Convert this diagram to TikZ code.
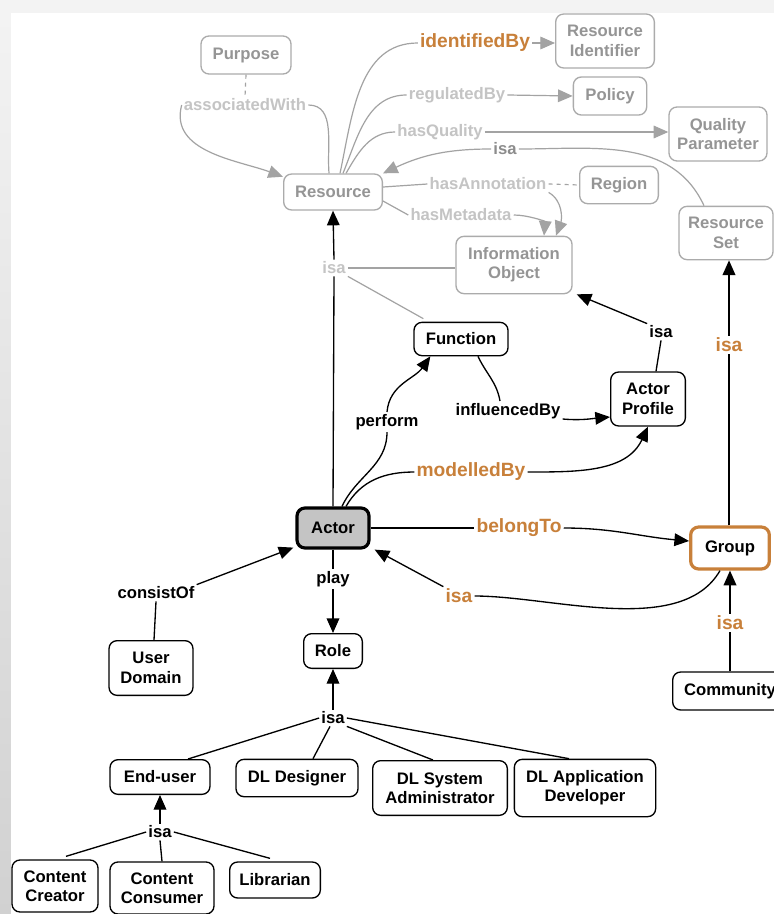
\documentclass[tikz,border=0pt]{standalone}
\usepackage{fontspec}
\setmainfont{Liberation Sans}
\usetikzlibrary{arrows.meta,calc}
\definecolor{orng}{HTML}{C8803A}
\definecolor{gbord}{HTML}{ABABAB}
\definecolor{gtext}{HTML}{959595}
\definecolor{glight}{HTML}{C4C4C4}
\definecolor{gisa}{HTML}{8C8C8C}
\definecolor{gline}{HTML}{A3A3A3}
\definecolor{actfill}{HTML}{C4C4C4}
\definecolor{bgg}{HTML}{F3F3F3}
\begin{document}
\begin{tikzpicture}[x=0.75pt,y=-0.75pt,
  every node/.style={font=\fontsize{12.5}{14.5}\selectfont\bfseries},
  box/.style={draw=black, line width=1pt, rounded corners=6pt, align=center, inner sep=1pt, fill=white},
  gbox/.style={box, draw=gbord, text=gtext},
  lbl/.style={fill=white, inner sep=1.5pt},
  olbl/.style={lbl, text=orng, font=\fontsize{14.4}{16}\selectfont\bfseries},
  glbl/.style={lbl, text=glight},
  bl/.style={line width=1pt, black},
  ba/.style={bl, -{Triangle[length=11pt,width=9.5pt]}},
  gl/.style={line width=0.9pt, gline},
  ga/.style={gl, -{Triangle[length=11pt,width=9.5pt]}},
]
\fill[bgg] (0,0) rectangle (774,914);
\shade[top color=bgg, bottom color=black!18] (0,13) rectangle (11,914);
\fill[white] (11,13) rectangle (774,914);
\useasboundingbox (0,0) rectangle (774,914);

% gray concept nodes
\node[gbox, minimum width=67.5pt, minimum height=28.5pt] (purpose) at (246,55) {Purpose};
\node[gbox, minimum width=74pt, minimum height=40.5pt] (resid) at (605,41) {Resource\\Identifier};
\node[gbox, minimum width=55pt, minimum height=28.5pt] (policy) at (610,96) {Policy};
\node[gbox, minimum width=73.5pt, minimum height=40.5pt] (qual) at (718,134) {Quality\\Parameter};
\node[gbox, minimum width=74pt, minimum height=27pt] (resource) at (333,192) {Resource};
\node[gbox, minimum width=59pt, minimum height=28pt] (region) at (619,185) {Region};
\node[gbox, minimum width=87pt, minimum height=43pt] (infoobj) at (514,265) {Information\\Object};
\node[gbox, minimum width=70.5pt, minimum height=40pt] (resset) at (726,233) {Resource\\Set};

% black concept nodes
\node[box, minimum width=70.5pt, minimum height=25pt] (function) at (461,339) {Function};
\node[box, minimum width=56pt, minimum height=40.5pt] (aprof) at (648,399) {Actor\\Profile};
\node[box, line width=2.4pt, fill=actfill, minimum width=54pt, minimum height=30pt] (actor) at (333,528) {Actor};
\node[box, draw=orng, line width=2.4pt, minimum width=59pt, minimum height=31.5pt] (group) at (730,548) {Group};
\node[box, minimum width=44pt, minimum height=26pt] (role) at (333,651) {Role};
\node[box, minimum width=63pt, minimum height=41pt] (udomain) at (151,668) {User\\Domain};
\node[box, minimum width=86pt, minimum height=28.5pt] (community) at (730,691) {Community};
\node[box, minimum width=75pt, minimum height=26pt] (enduser) at (160,777) {End-user};
\node[box, minimum width=91.5pt, minimum height=28pt] (dldes) at (297,778) {DL Designer};
\node[box, minimum width=101pt, minimum height=41pt] (dlsys) at (440,788) {DL System\\Administrator};
\node[box, minimum width=106pt, minimum height=43pt] (dlapp) at (585,788) {DL Application\\Developer};
\node[box, minimum width=64.5pt, minimum height=39pt] (ccreator) at (55,886) {Content\\Creator};
\node[box, minimum width=78pt, minimum height=39pt] (cconsumer) at (162,888) {Content\\Consumer};
\node[box, minimum width=68pt, minimum height=27pt] (librarian) at (275,880) {Librarian};

% link labels
\node[olbl] (idby) at (475,43) {identifiedBy};
\node[glbl] (assoc) at (245,105) {associatedWith};
\node[glbl] (regby) at (457,95) {regulatedBy};
\node[glbl] (hasq) at (440,132) {hasQuality};
\node[lbl, text=gisa] (isa1) at (505,149) {isa};
\node[glbl] (hasann) at (488,184) {hasAnnotation};
\node[glbl] (hasmeta) at (461,215) {hasMetadata};
\node[glbl] (isa2) at (334,268) {isa};
\node[lbl] (perform) at (387,422) {perform};
\node[lbl] (infl) at (508,411) {influencedBy};
\node[olbl] (modby) at (471,472) {modelledBy};
\node[olbl] (belong) at (519,528) {belongTo};
\node[olbl] (isa5) at (459,596) {isa};
\node[lbl] (play) at (333,579) {play};
\node[lbl] (consist) at (156,593) {consistOf};
\node[olbl] (isa4) at (729,345) {isa};
\node[lbl] (isa3) at (661,332) {isa};
\node[olbl] (isa6) at (730,623) {isa};
\node[lbl] (isa7) at (333,718) {isa};
\node[lbl] (isa8) at (160,832) {isa};

% gray connectors
\draw[gl, dashed] (purpose.south) -- (assoc.north);
\draw[ga] (assoc.west) to[out=-105,in=160] (resource.163);
\draw[gl] (assoc.east) to[out=0,in=95] ($(resource.north)+(-4,0)$);
\draw[gl] ($(resource.north)+(7,0)$) to[out=78,in=180] (idby.west);
\draw[ga] (idby.east) -- (resid.west |- idby.east);
\draw[gl] ($(resource.north)+(10,0)$) to[out=68,in=180] (regby.west);
\draw[ga] (regby.east) -- (policy.west);
\draw[gl] ($(resource.north)+(13,0)$) to[out=60,in=180] (hasq.west);
\draw[ga] (hasq.east) -- (qual.west |- hasq.east);
\draw[gl] ($(resset.north)+(-22,0)$) to[out=115,in=0] (isa1.east);
\draw[ga] (isa1.west) to[out=180,in=25] (resource.north east);
\draw[gl] ($(resource.east)+(0,-5)$) -- (hasann.west);
\draw[gl, dashed] (hasann.east) -- (region.west);
\draw[ga] (hasann.south east) to[out=-30,in=70] ($(infoobj.north)+(42,0)$);
\draw[gl] ($(resource.east)+(0,9)$) -- (hasmeta.west);
\draw[ga] (hasmeta.east) to[out=0,in=85] ($(infoobj.north)+(30,0)$);
\draw[gl] (isa2.east) -- (infoobj.west |- isa2.east);
\draw[gl] (isa2.south east) -- ($(function.north west)+(10,-3)$);

% black connectors
\draw[bl] (actor.north) -- (isa2.south);
\draw[ba] (isa2.north) -- (resource.south);
\draw[bl] ($(actor.north)+(9,0)$) to[out=65,in=-90] (perform.south);
\draw[ba] (perform.north) to[out=85,in=-125] ($(function.south west)+(17,0)$);
\draw[bl] ($(function.south)+(17,0)$) to[out=-65,in=100] ($(infl.north)+(-8,0)$);
\draw[ba] ($(infl.east)+(0,8)$) to[out=-5,in=185] ($(aprof.west)+(0,18)$);
\draw[bl] ($(actor.north)+(13,0)$) to[out=60,in=180] (modby.west);
\draw[ba] (modby.east) to[out=0,in=-115] (aprof.south);
\draw[bl] ($(aprof.north)+(8,0)$) -- (isa3.south);
\draw[ba] (isa3.north west) -- ($(infoobj.south east)+(4,0)$);
\draw[bl] (group.north -| isa4) -- (isa4.south);
\draw[ba] (isa4.north) -- (resset.south -| isa4);
\draw[bl] (actor.east) -- (belong.west);
\draw[ba] (belong.east) to[out=0,in=175] ($(group.west)+(0,-7)$);
\draw[bl] ($(group.south)+(-10,0)$) to[out=-120,in=0,looseness=0.8] (isa5.east);
\draw[ba] (isa5.north west) -- ($(actor.south east)+(4,0)$);
\draw[bl] (community.north -| isa6) -- (isa6.south);
\draw[ba] (isa6.north) -- (group.south -| isa6);
\draw[bl] (actor.south) -- (play.north);
\draw[ba] (play.south) -- (role.north);
\draw[bl] ($(udomain.north)+(3,0)$) -- (consist.south);
\draw[ba] (consist.north east) -- ($(actor.south west)+(-2,-2)$);
\draw[ba] (isa7.north) -- (role.south);
\draw[bl] (isa7.west) -- ($(enduser.north)+(28,0)$);
\draw[bl] ($(isa7.south)+(-3,0)$) -- ($(dldes.north)+(16,0)$);
\draw[bl] (isa7.south east) -- ($(dlsys.north)+(-7,0)$);
\draw[bl] (isa7.east) -- ($(dlapp.north)+(-16,0)$);
\draw[ba] (isa8.north) -- (enduser.south);
\draw[bl] (isa8.west) -- ($(ccreator.north)+(11,-3)$);
\draw[bl] (isa8.south) -- (cconsumer.north);
\draw[bl] (isa8.east) -- ($(librarian.north)+(-5,-3)$);
\end{tikzpicture}
\end{document}
